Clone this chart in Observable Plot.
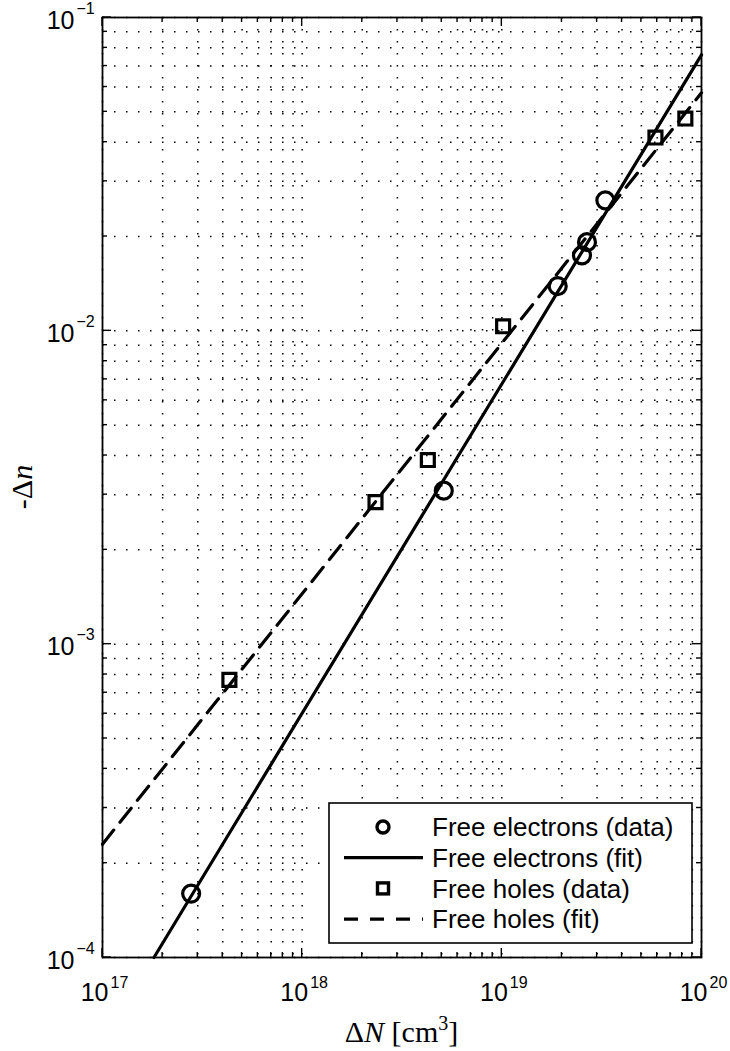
<!DOCTYPE html>
<html>
<head>
<meta charset="utf-8">
<script src="https://cdn.jsdelivr.net/npm/d3@7"></script>
<script src="https://cdn.jsdelivr.net/npm/@observablehq/plot@0.6"></script>
<style>
  html, body { margin: 0; padding: 0; background: #fff; }
  #chart svg { display: block; }
</style>
</head>
<body>
<div id="chart"></div>
<script>
// Free-carrier refractive index change (-Δn) versus injected carrier density ΔN
const electronDensity = [2.78e17, 5.12e18, 1.905e19, 2.52e19, 2.67e19, 3.30e19];
const electronDeltaN  = [1.60e-4, 3.09e-3, 1.388e-2, 1.74e-2, 1.918e-2, 2.61e-2];
const holeDensity     = [4.32e17, 2.33e18, 4.26e18, 1.015e19, 5.88e19, 8.30e19];
const holeDeltaN      = [7.69e-4, 2.84e-3, 3.87e-3, 1.034e-2, 4.14e-2, 4.76e-2];

// Power-law fits, given by their end points across the plotted range
const electronFitDensity = [1.81e17, 1e20];
const electronFitDeltaN  = [1e-4, 7.6e-2];
const holeFitDensity     = [1e17, 1e20];
const holeFitDeltaN      = [2.3e-4, 5.75e-2];

// Decades, their exponent labels, and the minor multipliers between them
const xDecades   = [1e17, 1e18, 1e19, 1e20];
const xExponents = ["17", "18", "19", "20"];
const yDecades   = [1e-4, 1e-3, 1e-2, 1e-1];
const yExponents = ["\u22124", "\u22123", "\u22122", "\u22121"];
const minorSteps = [2, 3, 4, 5, 6, 7, 8, 9];

const legendLabels = [
  "Free electrons (data)",
  "Free electrons (fit)",
  "Free holes (data)",
  "Free holes (fit)"
];

const electrons = electronDensity.map((N, i) => ({N, dn: electronDeltaN[i]}));
const holes = holeDensity.map((N, i) => ({N, dn: holeDeltaN[i]}));
const electronFit = electronFitDensity.map((N, i) => ({N, dn: electronFitDeltaN[i]}));
const holeFit = holeFitDensity.map((N, i) => ({N, dn: holeFitDeltaN[i]}));

const xMinor = xDecades.slice(0, -1).flatMap(d => minorSteps.map(m => d * m));
const yMinor = yDecades.slice(0, -1).flatMap(d => minorSteps.map(m => d * m));
const xLabels = xDecades.map((v, i) => ({v, e: xExponents[i]}));
const yLabels = yDecades.map((v, i) => ({v, e: yExponents[i]}));

const gridStyle = {stroke: "#000", strokeOpacity: 1, strokeWidth: 1.5, strokeDasharray: "1.5,10.5"};
const font = "'Liberation Sans', Arial, Helvetica, sans-serif";
const dashPattern = "18,10";

const chart = Plot.plot({
  width: 730,
  height: 1051,
  marginTop: 17,
  marginBottom: 94,
  marginLeft: 102,
  marginRight: 29,
  style: {fontFamily: font, background: "#fff", color: "#000", overflow: "visible"},
  x: {type: "log", domain: [1e17, 1e20], axis: null},
  y: {type: "log", domain: [1e-4, 1e-1], axis: null},
  marks: [
    Plot.gridX([...xDecades, ...xMinor], gridStyle),
    Plot.gridY([...yDecades, ...yMinor], gridStyle),
    // tick labels: "10" with a raised exponent
    Plot.text(xLabels, {x: "v", frameAnchor: "bottom", text: () => "10", textAnchor: "end",
      lineAnchor: "bottom", dx: 6, dy: 43, fontSize: 25, fill: "#000"}),
    Plot.text(xLabels, {x: "v", frameAnchor: "bottom", text: "e", textAnchor: "start",
      lineAnchor: "bottom", dx: 8, dy: 30, fontSize: 16, fill: "#000"}),
    Plot.text(yLabels, {y: "v", frameAnchor: "left", text: () => "10", textAnchor: "end",
      lineAnchor: "bottom", dx: -28, dy: 11, fontSize: 25, fill: "#000"}),
    Plot.text(yLabels, {y: "v", frameAnchor: "left", text: "e", textAnchor: "start",
      lineAnchor: "bottom", dx: -26, dy: -4, fontSize: 16, fill: "#000"}),
    // fits
    Plot.line(electronFit, {x: "N", y: "dn", stroke: "#000", strokeWidth: 3.2}),
    Plot.line(holeFit, {x: "N", y: "dn", stroke: "#000", strokeWidth: 3.2, strokeDasharray: dashPattern}),
    // measurements
    Plot.dot(electrons, {x: "N", y: "dn", symbol: "circle", r: 8.5, stroke: "#000", strokeWidth: 3.2, fill: "none"}),
    Plot.dot(holes, {x: "N", y: "dn", symbol: "square", r: 7.3, stroke: "#000", strokeWidth: 3.2, fill: "none"}),
    Plot.frame({stroke: "#000", strokeWidth: 1.8})
  ]
});

document.getElementById("chart").append(chart);

const svg = d3.select(chart);
const sx = chart.scale("x"), sy = chart.scale("y");
const [x0, x1] = sx.range;
const [yBottom, yTop] = sy.range;

// MATLAB-style inward ticks on all four sides
const tickLayer = svg.append("g").attr("stroke", "#000").attr("stroke-width", 1.4);
[[xMinor, 5], [xDecades, 9]].forEach(([vals, len]) => vals.forEach(v => {
  const px = sx.apply(v);
  tickLayer.append("line").attr("x1", px).attr("x2", px).attr("y1", yBottom).attr("y2", yBottom - len);
  tickLayer.append("line").attr("x1", px).attr("x2", px).attr("y1", yTop).attr("y2", yTop + len);
}));
[[yMinor, 5], [yDecades, 9]].forEach(([vals, len]) => vals.forEach(v => {
  const py = sy.apply(v);
  tickLayer.append("line").attr("y1", py).attr("y2", py).attr("x1", x0).attr("x2", x0 + len);
  tickLayer.append("line").attr("y1", py).attr("y2", py).attr("x1", x1).attr("x2", x1 - len);
}));

// Axis titles
const xTitle = svg.append("text")
  .attr("x", (x0 + x1) / 2)
  .attr("y", yBottom + 85)
  .attr("text-anchor", "middle")
  .attr("font-family", "'Liberation Serif', 'Times New Roman', serif")
  .attr("font-size", 30)
  .attr("fill", "#000");
xTitle.append("tspan").text("\u0394");
xTitle.append("tspan").attr("font-style", "italic").text("N");
xTitle.append("tspan").text(" [cm");
xTitle.append("tspan").attr("font-size", 20).attr("dy", -12).text("3");
xTitle.append("tspan").attr("dy", 12).text("]");

const yTitle = svg.append("text")
  .attr("transform", `translate(32,${(yBottom + yTop) / 2}) rotate(-90)`)
  .attr("text-anchor", "middle")
  .attr("font-family", "'Liberation Serif', 'Times New Roman', serif")
  .attr("font-size", 30)
  .attr("fill", "#000");
yTitle.append("tspan").text("-\u0394");
yTitle.append("tspan").attr("font-style", "italic").text("n");

// Legend box in the lower right corner of the axes
const lgW = 363, lgH = 140;
const lgX = x1 - 9 - lgW, lgY = yBottom - 14 - lgH;
const lg = svg.append("g").attr("transform", `translate(${lgX},${lgY})`);
lg.append("rect").attr("width", lgW).attr("height", lgH)
  .attr("fill", "#fff").attr("stroke", "#000").attr("stroke-width", 1.6);
legendLabels.forEach((label, i) => {
  const cy = 24 + i * 30.7;
  const row = lg.append("g").attr("transform", `translate(0,${cy})`);
  if (i === 0) {
    row.append("circle").attr("cx", 54).attr("cy", 0).attr("r", 6)
      .attr("fill", "none").attr("stroke", "#000").attr("stroke-width", 3.4);
  } else if (i === 2) {
    row.append("rect").attr("x", 54 - 5.5).attr("y", -5.5).attr("width", 11).attr("height", 11)
      .attr("fill", "none").attr("stroke", "#000").attr("stroke-width", 3.4);
  } else {
    row.append("line").attr("x1", 15).attr("x2", 94).attr("y1", 0).attr("y2", 0)
      .attr("stroke", "#000").attr("stroke-width", 3.2)
      .attr("stroke-dasharray", i === 3 ? "14,12" : null);
  }
  row.append("text").attr("x", 103).attr("y", 0).attr("dy", "0.35em")
    .attr("text-anchor", "start")
    .attr("font-family", font).attr("font-size", 26).attr("fill", "#000")
    .text(label);
});
</script>
</body>
</html>
